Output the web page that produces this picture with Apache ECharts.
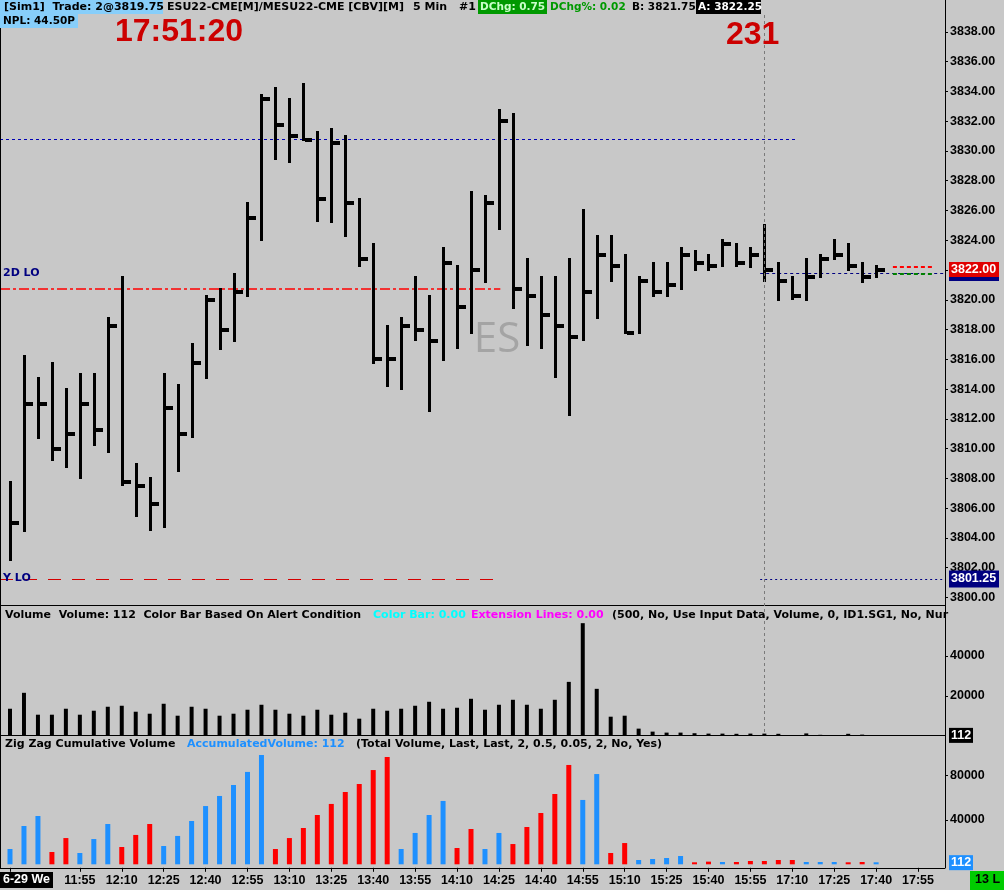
<!DOCTYPE html>
<html><head><meta charset="utf-8">
<script src="https://cdn.jsdelivr.net/npm/echarts@6/dist/echarts.min.js"></script>
<style>html,body{margin:0;padding:0;background:#C8C8C8;overflow:hidden}#c{width:1004px;height:890px;}</style>
</head><body><div id="c"></div>
<script>
// ---------------- data ----------------
const barTimes = ["11:30","11:35","11:40","11:45","11:50","11:55","12:00","12:05","12:10","12:15","12:20","12:25","12:30","12:35","12:40","12:45","12:50","12:55","13:00","13:05","13:10","13:15","13:20","13:25","13:30","13:35","13:40","13:45","13:50","13:55","14:00","14:05","14:10","14:15","14:20","14:25","14:30","14:35","14:40","14:45","14:50","14:55","15:00","15:05","15:10","15:15","15:20","15:25","15:30","15:35","15:40","15:45","15:50","15:55","17:00","17:05","17:10","17:15","17:20","17:25","17:30","17:35","17:40"];
const futureTimes = ["17:45","17:50","17:55","18:00"];
const highs  = [3807.75,3816.25,3814.75,3815.75,3814,3815,3815,3818.75,3821.5,3809,3808,3815,3814.25,3817,3820.25,3820.75,3821.75,3826.5,3833.75,3834.25,3833.5,3834.5,3831.25,3831.5,3831,3826.75,3823.75,3818.25,3818.75,3821.5,3820.25,3823.5,3822.25,3827.25,3827,3832.75,3832.5,3822.75,3821.5,3821.5,3822.75,3826,3824.25,3824.25,3823,3821.5,3822.5,3822.5,3823.5,3823.25,3823,3824,3823.75,3823.5,3825,3822.5,3821.5,3822.75,3823,3824,3823.75,3822.5,3822.25];
const lows   = [3802.5,3804.5,3810.75,3809.25,3808.75,3808,3810.25,3809.75,3807.5,3805.5,3804.5,3804.75,3808.5,3810.75,3814.75,3816.75,3817.25,3820.25,3824,3829.5,3829.25,3830.75,3825.25,3825.25,3824.25,3822.25,3815.75,3814.25,3814,3817.25,3812.5,3816,3816.75,3817.75,3821.25,3824.75,3819.5,3817,3816.75,3814.75,3812.25,3817.25,3818.75,3821.25,3817.75,3817.75,3820.25,3820.25,3820.75,3822,3822,3822.25,3822.25,3822.25,3821.25,3820,3820,3820,3821.5,3822.75,3822,3821.25,3821.5];
const closes = [3805,3813,3813,3810,3811,3813,3811.25,3818.25,3807.75,3807.5,3806.25,3812.75,3811,3815.75,3820,3818,3820.5,3825.5,3833.5,3831.75,3831,3830.75,3826.75,3830.5,3826.5,3822.75,3816,3816,3818.25,3818,3817.25,3822.5,3819.5,3822,3826.5,3832,3820.75,3820.25,3819,3818.25,3817.5,3820.5,3823,3822.25,3817.75,3821.25,3820.5,3821,3823,3822.5,3822.25,3823.75,3822.5,3823,3822,3821.25,3820.25,3821.5,3822.75,3823,3822.25,3821.5,3822];
const volumes = [13500,21500,10500,10500,13500,10500,12500,14500,15000,12000,11000,16000,10000,14500,13500,10000,11000,13000,15500,13000,11000,10000,13000,10500,11500,8500,13500,12500,13500,15000,17000,13500,14000,18500,13000,15500,18000,15500,13500,18000,27000,56500,23500,9500,10000,3500,2000,1500,1500,1200,1000,1000,900,1000,1000,900,300,1100,400,300,900,500,112];
const zigzagVolume = [13800,34600,43600,11100,23700,10200,22800,36400,15600,26500,36400,16500,25600,39100,52600,61700,71600,83400,98700,13800,23700,32800,44500,54500,65300,72500,85100,96900,13800,28300,44500,57200,14700,31900,13800,28300,18300,33700,46300,63500,89700,58100,81500,10200,19200,3900,4800,5700,7500,1500,2400,2100,2100,3000,3000,3900,3900,2100,2100,2100,1200,2100,112];
const zigzagDir = [1,1,1,-1,-1,1,1,1,-1,-1,-1,1,1,1,1,1,1,1,1,-1,-1,-1,-1,-1,-1,-1,-1,-1,1,1,1,1,-1,-1,1,1,-1,-1,-1,-1,-1,1,1,-1,-1,1,1,1,1,-1,-1,1,-1,-1,-1,-1,-1,1,1,1,-1,-1,1];
const priceTicks = [3800,3802,3804,3806,3808,3810,3812,3814,3816,3818,3820,3822,3824,3826,3828,3830,3832,3834,3836,3838];
const volumeTicks = [20000,40000];
const zigzagTicks = [40000,80000];
const xLabelIdx = [5,8,11,14,17,20,23,26,29,32,35,38,41,44,47,50,53,56,59,62,65];
const xTickIdx = [0].concat(xLabelIdx);
const levelHigh = 3830.75, level2DLo = 3820.75, levelYLo = 3801.25, levelSession = 3821.75;
const bidPrice = 3821.75, askPrice = 3822.25, lastPrice = 3822.00;
const sessionStartIdx = 54;

// ---------------- chart ----------------
const allTimes = barTimes.concat(futureTimes);
const FONT = '"DejaVu Sans"';
const AXFONT = '"Liberation Sans"';
const X_MIN = -0.716, X_MAX = 66.93;
const chart = echarts.init(document.getElementById('c'), null, {renderer:'canvas'});

const hlcData = highs.map((h,i)=>[i,h,lows[i],closes[i]]);
const volData = volumes.map((v,i)=>[i,v]);
const zzData = zigzagVolume.map((v,i)=>({value:[i,v], itemStyle:{color: zigzagDir[i] > 0 ? '#1E90FF' : '#FF0000'}}));

function renderHLC(params, api){
  const x = api.value(0);
  const pH = api.coord([x, api.value(1)]);
  const pL = api.coord([x, api.value(2)]);
  const pC = api.coord([x, api.value(3)]);
  const cx = Math.round(pH[0]);
  return {type:'group', children:[
    {type:'rect', shape:{x:cx-1, y:Math.round(pH[1])-1, width:3, height:Math.round(pL[1]-pH[1])+2}, style:{fill:'#000'}},
    {type:'rect', shape:{x:cx+2, y:Math.round(pC[1])-2, width:7, height:4}, style:{fill:'#000'}}
  ]};
}

const hiddenX = {type:'value', min:X_MIN, max:X_MAX, axisLine:{show:false, onZero:false}, axisTick:{show:false}, axisLabel:{show:false}, splitLine:{show:false}};
const axisFont = {color:'#000', fontFamily:'Liberation Sans', fontWeight:'bold', fontSize:12.5};
function yAx(grid, min, max, ticks, fmt){
  return {gridIndex:grid, type:'value', position:'right', min:min, max:max,
    axisLine:{show:false, onZero:false}, splitLine:{show:false},
    axisTick:{show:true, length:3, customValues:ticks, lineStyle:{color:'#000'}},
    axisLabel:Object.assign({customValues:ticks, formatter:fmt, margin:5}, axisFont)};
}

const option = {
  backgroundColor:'#C8C8C8',
  animation:false,
  grid:[
    {left:0, width:945, top:2, height:595.5},
    {left:0, width:945, top:616.2, height:119.4},
    {left:0, width:945, top:731.4, height:132.9}
  ],
  xAxis:[
    Object.assign({gridIndex:0}, hiddenX),
    Object.assign({gridIndex:1}, hiddenX),
    {gridIndex:2, type:'value', min:X_MIN, max:X_MAX, offset:3.5, splitLine:{show:false},
      axisLine:{show:true, onZero:false, lineStyle:{color:'#000', width:1}},
      axisTick:{show:true, length:4, customValues:xTickIdx, lineStyle:{color:'#000'}},
      axisLabel:Object.assign({customValues:xLabelIdx, formatter:v=>allTimes[Math.round(v)], margin:6}, axisFont)}
  ],
  yAxis:[
    yAx(0, 3800, 3840, priceTicks, v=>v.toFixed(2)),
    yAx(1, 0, 60000, volumeTicks, v=>String(v)),
    yAx(2, 0, 120000, zigzagTicks, v=>String(v))
  ],
  series:[
    {type:'line', xAxisIndex:0, yAxisIndex:0, data:[], silent:true,
      markLine:{symbol:['none','none'], silent:true, label:{show:false}, animation:false,
        data:[
          [{coord:[X_MIN, levelHigh], lineStyle:{color:'#0000B4', type:[3,3], width:1}}, {coord:[56.2, levelHigh]}],
          [{coord:[X_MIN, level2DLo], lineStyle:{color:'#FF0000', type:[10,3,3,3], width:1.5}}, {coord:[35.1, level2DLo]}],
          [{coord:[X_MIN, levelYLo], lineStyle:{color:'#D40000', type:[13,11], width:1}}, {coord:[35.1, levelYLo]}],
          [{coord:[53.7, levelYLo], lineStyle:{color:'#000080', type:[2,3], width:1}}, {coord:[X_MAX, levelYLo]}],
          [{coord:[53.7, levelSession], lineStyle:{color:'#000080', type:[3,3], width:1}}, {coord:[X_MAX, levelSession]}],
          [{coord:[63.2, askPrice], lineStyle:{color:'#FF0000', type:[4,3], width:2}}, {coord:[66.2, askPrice]}],
          [{coord:[63.2, bidPrice], lineStyle:{color:'#008000', type:[4,3], width:2}}, {coord:[66.2, bidPrice]}]
        ]}},
    {type:'custom', name:'ES', xAxisIndex:0, yAxisIndex:0, renderItem:renderHLC, data:hlcData, encode:{x:0, y:[1,2,3]}, clip:false, z:5},
    {type:'bar', xAxisIndex:1, yAxisIndex:1, data:volData, barWidth:4, itemStyle:{color:'#000'}, z:5},
    {type:'bar', xAxisIndex:2, yAxisIndex:2, data:zzData, barWidth:5, barMinHeight:2, z:5}
  ]
};
chart.setOption(option);

// ---------------- overlays (text, boxes, panel frames) ----------------
const vx = chart.convertToPixel({xAxisIndex:0}, sessionStartIdx);
const yLast = chart.convertToPixel({yAxisIndex:0}, lastPrice);
const yYLo = chart.convertToPixel({yAxisIndex:0}, levelYLo);
const y2DLo = chart.convertToPixel({yAxisIndex:0}, level2DLo);
const yVol = chart.convertToPixel({yAxisIndex:1}, volumes[volumes.length-1]);
const yZz = chart.convertToPixel({yAxisIndex:2}, zigzagVolume[zigzagVolume.length-1]);

function txt(text, x, y, color, font, align){
  return {type:'text', z:60, x:x, y:y, style:{text:text, fill:color, font:font || ('bold 11px '+FONT), textAlign:align||'left', textVerticalAlign:'middle'}};
}
const AXF = 'bold 12.5px ' + AXFONT;
function box(x, y, w, h, color, z){
  return {type:'rect', z:z||55, shape:{x:x, y:y, width:w, height:h}, style:{fill:color}};
}
function hline(x1, x2, y, color, dash){
  return {type:'line', z:40, shape:{x1:x1, y1:y, x2:x2, y2:y}, style:{stroke:color||'#000', lineWidth:1, lineDash:dash||null}};
}
function vline(x, y1, y2, color, dash){
  return {type:'line', z:40, shape:{x1:x, y1:y1, x2:x, y2:y2}, style:{stroke:color||'#000', lineWidth:1, lineDash:dash||null}};
}

const g = [
  // frames
  vline(0.5, 0, 868), vline(945.5, 0, 868),
  hline(0, 946, 605.5), hline(0, 946, 735.5),
  // session start vertical dashed line
  Object.assign(vline(Math.round(vx)+0.5, 15, 735, '#7A7A7A', [3,3]), {z:45}),
  // header line 1
  box(0, 0, 163, 14, '#87CEFA'), txt('[Sim1]  Trade: 2@3819.75', 4, 7, '#000'),
  txt('ESU22-CME[M]/MESU22-CME [CBV][M]', 167, 7, '#000'),
  txt('5 Min', 413, 7, '#000'),
  txt('#1', 459, 7, '#000'),
  box(478, 0, 69, 14, '#009900'), txt('DChg: 0.75', 480, 7, '#C8FFC8', 'bold 10.5px '+FONT),
  txt('DChg%: 0.02', 550, 7, '#009900', 'bold 10.5px '+FONT),
  txt('B: 3821.75', 632, 7, '#000', 'bold 10.5px '+FONT),
  box(696, 0, 65, 14, '#000'), txt('A: 3822.25', 698, 7, '#FFF', 'bold 10.5px '+FONT),
  // header line 2
  box(0, 14, 78, 14, '#87CEFA'), txt('NPL: 44.50P', 3, 21, '#000', 'bold 10.5px '+FONT),
  // clock and counter
  txt('17:51:20', 115, 32, '#CC0000', 'bold 32px "Liberation Sans"'),
  txt('231', 726, 35, '#CC0000', 'bold 32px "Liberation Sans"'),
  // watermark
  Object.assign(txt('ES', 497, 340, '#A4A4A4', '42px "Open Sans"', 'center'), {z:1}),
  // level labels
  txt('2D LO', 3, y2DLo-15, '#000080'),
  txt('Y LO', 3, yYLo-1, '#000080'),
  // price axis boxes
  box(949, yLast-8, 50, 15, '#E00000'), box(949, yLast+7, 50, 4, '#000080'),
  txt(lastPrice.toFixed(2), 951, yLast, '#FFF', AXF),
  box(949, yYLo-8.5, 50, 17, '#000080'),
  txt(levelYLo.toFixed(2), 951, yYLo, '#FFF', AXF),
  // volume panel header
  txt('Volume  Volume: ' + volumes[volumes.length-1] + '  Color Bar Based On Alert Condition', 5, 615, '#000'),
  txt('Color Bar: 0.00', 373, 615, '#00FFFF'),
  txt('Extension Lines: 0.00', 471, 615, '#FF00FF'),
  txt('(500, No, Use Input Data, Volume, 0, ID1.SG1, No, Nur', 612, 615, '#000'),
  box(949, yVol-7.5, 24, 15, '#000'), txt(String(volumes[volumes.length-1]), 951, yVol, '#FFF', AXF),
  // zigzag header
  txt('Zig Zag Cumulative Volume', 5, 744, '#000'),
  txt('AccumulatedVolume: ' + zigzagVolume[zigzagVolume.length-1], 187, 744, '#1E90FF'),
  txt('(Total Volume, Last, Last, 2, 0.5, 0.05, 2, No, Yes)', 356, 744, '#000'),
  box(949, yZz-9, 24, 15, '#1E90FF'), txt(String(zigzagVolume[zigzagVolume.length-1]), 951, yZz-1.5, '#FFF', AXF),
  // bottom-left date and bottom-right status
  box(0, 872, 53, 16, '#000'), txt('6-29 We', 3, 880, '#FFF', AXF),
  box(970, 871, 34, 19, '#00CC00'), txt('13 L', 975, 880, '#000', AXF)
];
chart.setOption({graphic:{elements:g}});
</script>
</body></html>
